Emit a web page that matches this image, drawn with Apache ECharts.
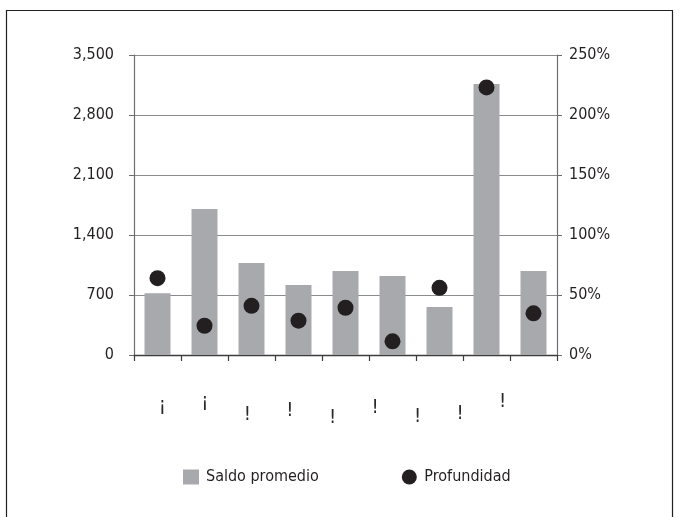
<!DOCTYPE html>
<html>
<head>
<meta charset="utf-8">
<script src="https://cdn.jsdelivr.net/npm/echarts@6/dist/echarts.min.js"></script>
<style>
  html, body { margin: 0; padding: 0; background: #fff; }
  #chart { width: 681px; height: 517px; }
</style>
</head>
<body>
<div id="chart"></div>
<script>
// Category labels (as printed under the axis)
const categories = ['¡', '¡', '!', '!', '!', '!', '!', '!', '!'];
// Average balance (left axis)
const saldoPromedio = [720, 1703, 1073, 817, 980, 922, 560, 3162, 980];
// Depth, in percent (right axis)
const profundidad = [64, 24.4, 41, 28.6, 39.4, 11.4, 56, 223, 34.7];
// Tick labels
const leftTickLabels = ['0', '700', '1,400', '2,100', '2,800', '3,500'];
const rightTickLabels = ['0%', '50%', '100%', '150%', '200%', '250%'];

// Layout: vertical drop of each category label, in px
const labelDrop = [7, 0, 25, 18, 32, 12, 29, 23, 0];

const FONT = "'Liberation Sans Narrow', 'Arial Narrow', 'DejaVu Sans Condensed', sans-serif";
const INK = '#231f20';

const rich = {};
labelDrop.forEach((d, i) => {
  rich['c' + i] = { fontFamily: FONT, fontSize: 20, lineHeight: 20, color: '#2a2a2a', padding: [d, 0, 0, 0] };
});

const chart = echarts.init(document.getElementById('chart'), null, { renderer: 'canvas' });
chart.setOption({
  animation: false,
  backgroundColor: '#fff',
  textStyle: { fontFamily: FONT },
  graphic: [{
    type: 'rect',
    silent: true,
    shape: { x: 6.5, y: 10.5, width: 666, height: 530 },
    style: { fill: null, stroke: INK, lineWidth: 1.2 }
  }],
  grid: [
    { left: 134, right: 124, top: 55, bottom: 162 },
    { left: 141, right: 157, top: 55, bottom: 162 }
  ],
  legend: {
    left: 183,
    top: 469,
    padding: 0,
    itemWidth: 16,
    itemHeight: 15,
    itemGap: 83,
    textStyle: { fontFamily: FONT, fontSize: 16, color: INK, padding: [0, 0, 0, 2] },
    data: [
      { name: 'Saldo promedio', icon: 'rect' },
      { name: 'Profundidad', icon: 'circle' }
    ]
  },
  xAxis: [
    {
      gridIndex: 0,
      type: 'category',
      data: categories,
      boundaryGap: true,
      axisLine: { lineStyle: { color: '#3c3c3c', width: 1.3 } },
      axisTick: { show: true, length: 6, lineStyle: { color: '#3c3c3c', width: 1.2 } },
      axisLabel: { show: false }
    },
    {
      gridIndex: 1,
      type: 'category',
      data: categories,
      axisLine: { show: false },
      axisTick: { show: false },
      axisLabel: {
        margin: 37,
        interval: 0,
        formatter: (v, i) => '{c' + i + '|' + v + '}',
        rich: rich
      }
    }
  ],
  yAxis: [
    {
      gridIndex: 0,
      type: 'value',
      min: 0,
      max: 3500,
      interval: 700,
      axisLine: { show: true, lineStyle: { color: '#6d6e71', width: 1.2 } },
      axisTick: { show: true, length: 5, lineStyle: { color: '#6d6e71' } },
      splitLine: { show: true, lineStyle: { color: '#8a8b8e', width: 1.2 } },
      axisLabel: {
        margin: 20,
        fontFamily: FONT,
        fontSize: 16,
        color: INK,
        formatter: (v) => leftTickLabels[Math.round(v / 700)]
      }
    },
    {
      gridIndex: 0,
      type: 'value',
      position: 'right',
      min: 0,
      max: 250,
      interval: 50,
      axisLine: { show: true, lineStyle: { color: '#6d6e71', width: 1.2 } },
      axisTick: { show: true, length: 5, lineStyle: { color: '#6d6e71' } },
      splitLine: { show: false },
      axisLabel: {
        margin: 12,
        fontFamily: FONT,
        fontSize: 16,
        color: INK,
        formatter: (v) => rightTickLabels[Math.round(v / 50)]
      }
    },
    { gridIndex: 1, type: 'value', show: false }
  ],
  series: [
    {
      name: 'Saldo promedio',
      type: 'bar',
      xAxisIndex: 0,
      yAxisIndex: 0,
      barWidth: 26,
      itemStyle: { color: '#a7a9ac' },
      data: saldoPromedio
    },
    {
      name: 'Profundidad',
      type: 'scatter',
      xAxisIndex: 0,
      yAxisIndex: 1,
      symbol: 'circle',
      symbolSize: 16,
      itemStyle: { color: INK, opacity: 1 },
      z: 3,
      data: profundidad
    }
  ]
});
</script>
</body>
</html>
